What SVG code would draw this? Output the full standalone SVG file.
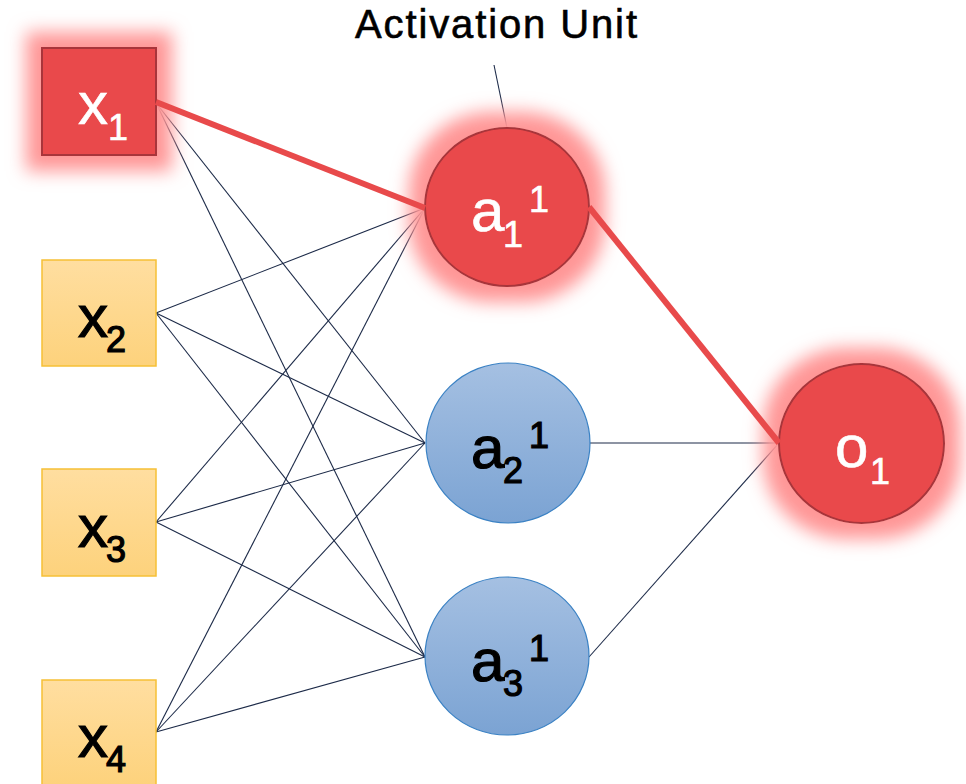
<svg xmlns="http://www.w3.org/2000/svg" width="966" height="784" viewBox="0 0 966 784">
  <defs>
    <linearGradient id="gYellow" x1="0" y1="0" x2="0" y2="1">
      <stop offset="0" stop-color="#ffdea0"/>
      <stop offset="1" stop-color="#fdd27c"/>
    </linearGradient>
    <linearGradient id="gBlue" x1="0" y1="0" x2="0" y2="1">
      <stop offset="0" stop-color="#a5c0e2"/>
      <stop offset="1" stop-color="#7ba3d3"/>
    </linearGradient>
    <filter id="glow" x="-70%" y="-70%" width="240%" height="240%">
      <feMorphology in="SourceAlpha" operator="dilate" radius="15" result="grown"/>
      <feGaussianBlur in="grown" stdDeviation="9" result="soft"/>
      <feFlood flood-color="#ff9696"/>
      <feComposite in2="soft" operator="in" result="halo"/>
      <feMerge>
        <feMergeNode in="halo"/>
        <feMergeNode in="SourceGraphic"/>
      </feMerge>
    </filter>
  </defs>
  <style>
    .in { fill: url(#gYellow); stroke: #f6c036; stroke-width: 1.5; }
    .hid { fill: url(#gBlue); stroke: #3b82c4; stroke-width: 1.2; }
    .hot { fill: #e94a4b; stroke: #a8343a; stroke-width: 2; }
    .wire { stroke: #1c2a48; stroke-width: 1.1; fill: none; }
    .path { stroke: #e84a4b; stroke-width: 6; fill: none; stroke-linecap: butt; }
    text { font-family: "Liberation Sans", Arial, sans-serif; }
    .lbl { font-size: 60px; }
    .sm { font-size: 36px; }
    .dark { fill: #000; stroke: #000; stroke-width: 1.2; }
    .light { fill: #fff; stroke: #fff; stroke-width: 0.6; }
    .title { font-size: 40px; fill: #000; stroke: #000; stroke-width: 0.6; }
  </style>

  <!-- thin connections -->
  <g id="connectors">
    <line class="wire" x1="156" y1="103" x2="425" y2="443"/>
    <line class="wire" x1="156" y1="103" x2="425" y2="657"/>
    <line class="wire" x1="156" y1="313" x2="425" y2="208"/>
    <line class="wire" x1="156" y1="313" x2="425" y2="443"/>
    <line class="wire" x1="156" y1="313" x2="425" y2="657"/>
    <line class="wire" x1="156" y1="522" x2="425" y2="208"/>
    <line class="wire" x1="156" y1="522" x2="425" y2="443"/>
    <line class="wire" x1="156" y1="522" x2="425" y2="657"/>
    <line class="wire" x1="156" y1="732" x2="425" y2="208"/>
    <line class="wire" x1="156" y1="732" x2="425" y2="443"/>
    <line class="wire" x1="156" y1="732" x2="425" y2="657"/>
    <line class="wire" x1="590" y1="443" x2="779" y2="443"/>
    <line class="wire" x1="589" y1="657" x2="779" y2="443"/>
    <line class="wire" x1="494" y1="65" x2="507" y2="128"/>
  </g>

  <!-- input layer -->
  <g id="x2">
    <rect class="in" x="42" y="260" width="114" height="106"/>
    <text class="lbl dark" x="78" y="337">x<tspan class="sm" x="106" y="352">2</tspan></text>
  </g>
  <g id="x3">
    <rect class="in" x="42" y="469" width="114" height="107"/>
    <text class="lbl dark" x="78" y="547">x<tspan class="sm" x="106" y="562">3</tspan></text>
  </g>
  <g id="x4">
    <rect class="in" x="42" y="680" width="114" height="106"/>
    <text class="lbl dark" x="78" y="757">x<tspan class="sm" x="106" y="772">4</tspan></text>
  </g>

  <!-- hidden layer -->
  <g id="a2">
    <ellipse class="hid" cx="508" cy="443" rx="82" ry="80"/>
    <text class="lbl dark" x="471" y="468">a<tspan class="sm" x="503" y="483">2</tspan><tspan class="sm" x="529" y="448">1</tspan></text>
  </g>
  <g id="a3">
    <ellipse class="hid" cx="507" cy="656" rx="82" ry="79"/>
    <text class="lbl dark" x="471" y="681">a<tspan class="sm" x="503" y="696">3</tspan><tspan class="sm" x="529" y="661">1</tspan></text>
  </g>

  <!-- highlighted path -->
  <g id="x1">
    <rect class="hot" x="42" y="48" width="114" height="107" filter="url(#glow)"/>
    <text class="lbl light" x="78" y="124">x<tspan class="sm" x="108" y="140">1</tspan></text>
  </g>
  <g id="a1">
    <ellipse class="hot" cx="507" cy="207" rx="82" ry="79" filter="url(#glow)"/>
    <text class="lbl light" x="471" y="231">a<tspan class="sm" x="503" y="247">1</tspan><tspan class="sm" x="529" y="212">1</tspan></text>
  </g>
  <g id="o1">
    <ellipse class="hot" cx="861.5" cy="443.5" rx="82.5" ry="79.5" filter="url(#glow)"/>
    <text class="lbl light" x="835" y="467">o<tspan class="sm" x="870" y="484">1</tspan></text>
  </g>
  <g id="hot-path">
    <line class="path" x1="156" y1="102" x2="425" y2="208"/>
    <line class="path" x1="589" y1="207" x2="779" y2="443"/>
  </g>

  <g id="callout">
    <text class="title" x="355" y="38" textLength="282" lengthAdjust="spacing">Activation Unit</text>
  </g>
</svg>
